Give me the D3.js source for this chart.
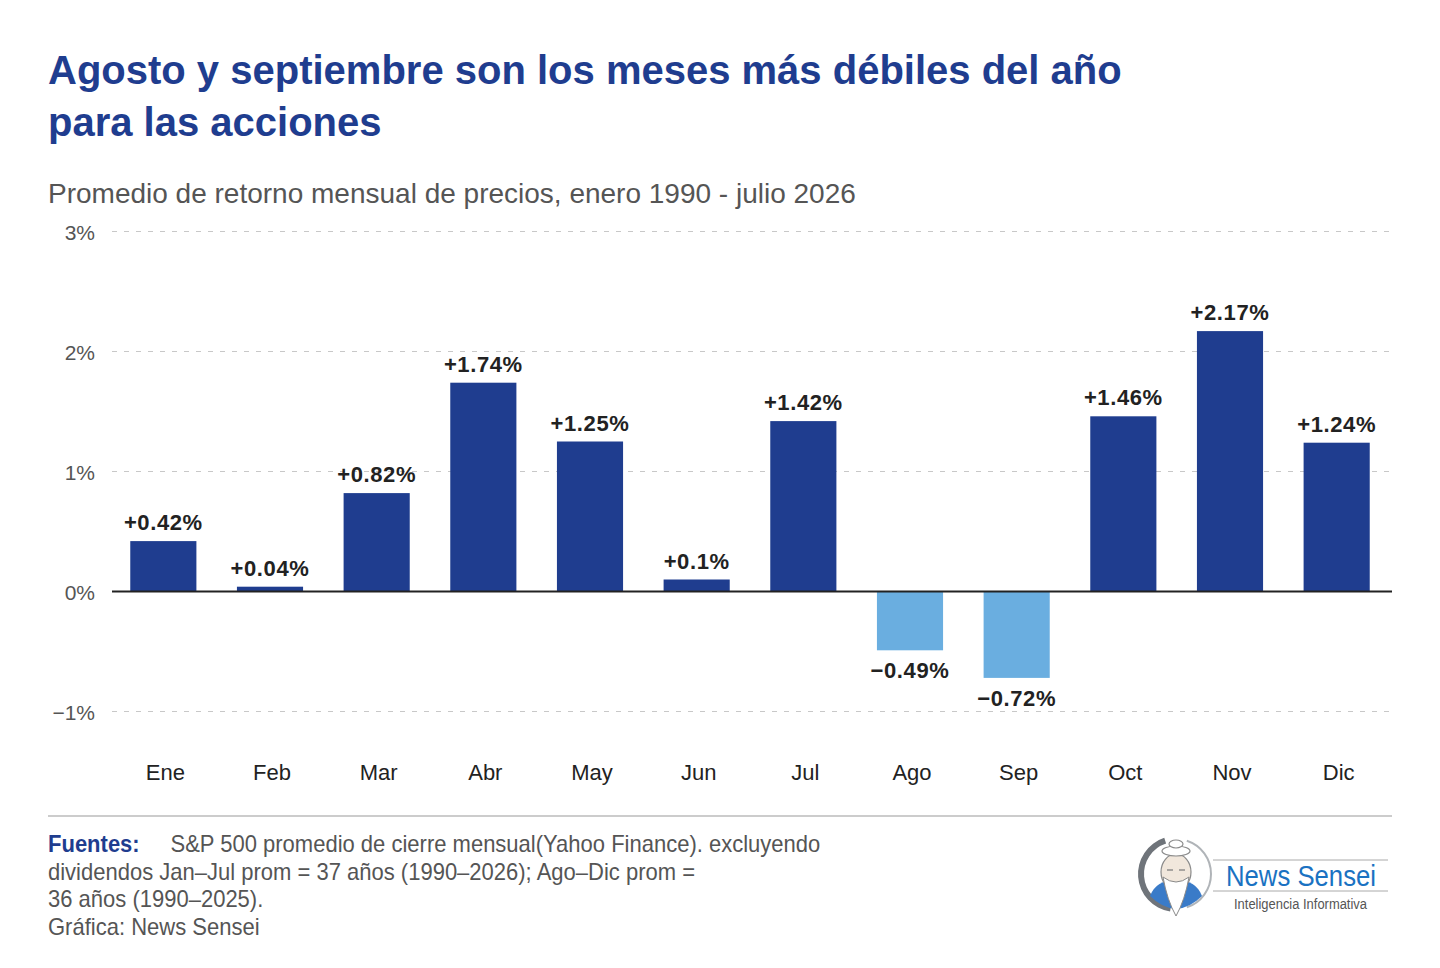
<!DOCTYPE html>
<html>
<head>
  <meta charset="utf-8">
  <script src="https://cdn.jsdelivr.net/npm/d3@7"></script>
  <style>
    body { margin: 0; background: #fff; }
    text { font-family: "Liberation Sans", Arial, sans-serif; }
  </style>
</head>
<body>
<script>
  // data
  var months = ["Ene", "Feb", "Mar", "Abr", "May", "Jun", "Jul", "Ago", "Sep", "Oct", "Nov", "Dic"];
  var returns = [0.42, 0.04, 0.82, 1.74, 1.25, 0.10, 1.42, -0.49, -0.72, 1.46, 2.17, 1.24];
  var valueLabels = ["+0.42%", "+0.04%", "+0.82%", "+1.74%", "+1.25%", "+0.1%", "+1.42%", "\u22120.49%", "\u22120.72%", "+1.46%", "+2.17%", "+1.24%"];
  var yTicks = [-1, 0, 1, 2, 3];
  var yTickLabels = ["\u22121%", "0%", "1%", "2%", "3%"];

  var width = 1440, height = 968;
  var svg = d3.select("body").append("svg")
    .attr("width", width)
    .attr("height", height);

  // titles
  var title = svg.append("text")
    .attr("fill", "#1f3d8f")
    .style("font-size", "40px").style("font-weight", "bold");
  title.append("tspan").attr("x", 48).attr("y", 84).text("Agosto y septiembre son los meses más débiles del año");
  title.append("tspan").attr("x", 48).attr("y", 136).text("para las acciones");

  svg.append("text")
    .attr("x", 48).attr("y", 203)
    .attr("fill", "#555")
    .style("font-size", "28px")
    .text("Promedio de retorno mensual de precios, enero 1990 - julio 2026");

  /*
    scales
  */
  var x = d3.scaleBand()
    .domain(months)
    .range([110, 1390])
    .paddingInner(0.38)
    .paddingOuter(0.19);

  var y = d3.scaleLinear()
    .domain([-1, 3])
    .range([711.5, 231.5]);

  // gridlines
  svg.append("g").selectAll("line")
    .data(yTicks.filter(function(d) { return d !== 0; }))
    .join("line")
      .attr("x1", 112).attr("x2", 1390)
      .attr("y1", function(d) { return y(d); })
      .attr("y2", function(d) { return y(d); })
      .attr("stroke", "#c8c8c8")
      .attr("stroke-width", 1.2)
      .attr("stroke-dasharray", "5,7");

  // y tick labels
  svg.append("g").selectAll("text")
    .data(yTicks)
    .join("text")
      .attr("x", 95)
      .attr("y", function(d) { return y(d) + 8; })
      .attr("text-anchor", "end")
      .attr("fill", "#555")
      .style("font-size", "21px")
      .text(function(d, i) { return yTickLabels[i]; });

  // bars
  svg.append("g").selectAll("rect")
    .data(returns)
    .join("rect")
      .attr("x", function(d, i) { return x(months[i]); })
      .attr("width", x.bandwidth())
      .attr("y", function(d) { return d >= 0 ? y(d) : y(0); })
      .attr("height", function(d) { return Math.abs(y(d) - y(0)); })
      .attr("fill", function(d) { return d >= 0 ? "#1f3d8f" : "#6aaee0"; });

  // zero line
  svg.append("line")
    .attr("x1", 112).attr("x2", 1392)
    .attr("y1", y(0)).attr("y2", y(0))
    .attr("stroke", "#222").attr("stroke-width", 2);

  // value labels
  svg.append("g").selectAll("text")
    .data(returns)
    .join("text")
      .attr("x", function(d, i) { return x(months[i]) + x.bandwidth() / 2; })
      .attr("y", function(d) { return d >= 0 ? y(d) - 11 : y(d) + 28; })
      .attr("text-anchor", "middle")
      .attr("fill", "#222")
      .style("font-size", "22px").style("font-weight", "bold")
      .style("letter-spacing", "0.6px")
      .text(function(d, i) { return valueLabels[i]; });

  // month labels
  svg.append("g").selectAll("text")
    .data(months)
    .join("text")
      .attr("x", function(d) { return x(d) + x.bandwidth() / 2 + 2; })
      .attr("y", 780)
      .attr("text-anchor", "middle")
      .attr("fill", "#222")
      .style("font-size", "22px")
      .text(function(d) { return d; });

  /*
    footer
  */
  svg.append("line")
    .attr("x1", 48).attr("x2", 1392)
    .attr("y1", 816).attr("y2", 816)
    .attr("stroke", "#ccc").attr("stroke-width", 2);

  // the source notes use a condensed face; squeeze Liberation Sans a little
  var foot = svg.append("g").attr("transform", "translate(48,0) scale(0.957,1)");
  foot.append("text")
    .attr("x", 0).attr("y", 852)
    .attr("fill", "#1f3d8f")
    .style("font-size", "23px").style("font-weight", "bold")
    .text("Fuentes:");

  var notes = [
    [128, 852, "S&P 500 promedio de cierre mensual(Yahoo Finance). excluyendo"],
    [0, 880, "dividendos Jan\u2013Jul prom = 37 años (1990\u20132026); Ago\u2013Dic prom ="],
    [0, 907, "36 años (1990\u20132025)."],
    [0, 935, "Gráfica: News Sensei"]
  ];
  foot.append("g").selectAll("text")
    .data(notes)
    .join("text")
      .attr("x", function(d) { return d[0]; })
      .attr("y", function(d) { return d[1]; })
      .attr("fill", "#555")
      .style("font-size", "23px")
      .text(function(d) { return d[2]; });

  // logo
  var logo = svg.append("g").attr("transform", "translate(1176,874)");
  logo.append("path")
    .attr("d", d3.arc()({innerRadius: 32, outerRadius: 38, startAngle: -Math.PI * 0.95, endAngle: -Math.PI * 0.1}))
    .attr("fill", "#6f747a");
  logo.append("path")
    .attr("d", d3.arc()({innerRadius: 34, outerRadius: 36, startAngle: Math.PI * 0.1, endAngle: Math.PI * 0.9}))
    .attr("fill", "#b0b4b8");
  logo.append("path")
    .attr("d", "M-26,22 Q-20,6 0,6 Q20,6 26,22 Q14,34 0,35 Q-14,34 -26,22 Z")
    .attr("fill", "#3a7bc8");
  logo.append("ellipse").attr("cx", 0).attr("cy", -2).attr("rx", 15).attr("ry", 18)
    .attr("fill", "#f1e7dc").attr("stroke", "#8a8a8a").attr("stroke-width", 1.2);
  logo.append("path")
    .attr("d", "M-13,3 Q0,13 13,3 Q9,26 0,42 Q-9,26 -13,3 Z")
    .attr("fill", "#fff").attr("stroke", "#8a8a8a").attr("stroke-width", 1);
  logo.append("ellipse").attr("cx", 0).attr("cy", -23).attr("rx", 14).attr("ry", 5)
    .attr("fill", "#fff").attr("stroke", "#8a8a8a").attr("stroke-width", 1.2);
  logo.append("ellipse").attr("cx", 0).attr("cy", -30).attr("rx", 7).attr("ry", 4)
    .attr("fill", "#fff").attr("stroke", "#8a8a8a").attr("stroke-width", 1.2);
  logo.append("line").attr("x1", -9).attr("x2", -3).attr("y1", -4).attr("y2", -4)
    .attr("stroke", "#777").attr("stroke-width", 1.2);
  logo.append("line").attr("x1", 3).attr("x2", 9).attr("y1", -4).attr("y2", -4)
    .attr("stroke", "#777").attr("stroke-width", 1.2);

  svg.append("line").attr("x1", 1213).attr("x2", 1388).attr("y1", 860).attr("y2", 860)
    .attr("stroke", "#aaa").attr("stroke-width", 1);
  svg.append("line").attr("x1", 1213).attr("x2", 1388).attr("y1", 891).attr("y2", 891)
    .attr("stroke", "#aaa").attr("stroke-width", 1);
  svg.append("text")
    .attr("x", 1226).attr("y", 886)
    .attr("fill", "#1a72c2")
    .attr("textLength", 150)
    .attr("lengthAdjust", "spacingAndGlyphs")
    .style("font-size", "30px")
    .text("News Sensei");
  svg.append("text")
    .attr("x", 1234).attr("y", 909)
    .attr("fill", "#555")
    .attr("textLength", 133)
    .attr("lengthAdjust", "spacingAndGlyphs")
    .style("font-size", "14px")
    .text("Inteligencia Informativa");
</script>
</body>
</html>
